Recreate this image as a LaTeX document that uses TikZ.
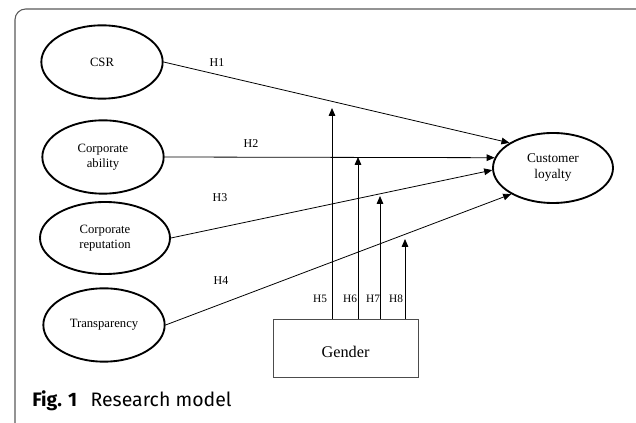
\documentclass[tikz,border=0pt]{standalone}
\usepackage{fontspec}
\setmainfont{Liberation Serif}
\newfontfamily\capfont{Fira Sans}
\usetikzlibrary{shapes.geometric, arrows.meta}

\tikzset{
  construct/.style={ellipse, draw, line width=1.4pt, inner sep=0pt, align=center,
    minimum width=91pt, minimum height=55pt, font=\fontsize{9.5}{11.25}\selectfont},
  hyp/.style={-{Triangle[length=6pt,width=5pt]}, line width=0.6pt},
  hlabel/.style={inner sep=0pt, font=\fontsize{9}{10}\selectfont},
  mlabel/.style={inner sep=0pt, font=\fontsize{8.5}{10}\selectfont},
}

\begin{document}
\begin{tikzpicture}[x=0.75pt, y=-0.75pt]
\path[use as bounding box, clip] (0,0) rectangle (636,423);
\draw[black!65, line width=0.8pt, rounded corners=8pt] (15,9) rectangle (650,440);

% constructs
\node[construct] (csr) at (102,62) {CSR};
\node[construct] (ability) at (103,157) {Corporate\\ability};
\node[construct, minimum width=97.5pt, minimum height=54pt] (reput) at (105,238) {Corporate\\reputation};
\node[construct] (transp) at (104,325) {Transparency};
\node[construct, minimum width=90pt, minimum height=52.5pt, font=\fontsize{10}{12}\selectfont] (loyal) at (553,168) {Customer\\loyalty};

% moderator
\node[draw=black!70, line width=0.6pt, minimum width=108.75pt, minimum height=43.5pt,
  text height=14pt, text depth=0pt, font=\fontsize{12.2}{14}\selectfont] (gender) at (345.5,348) {Gender};

% direct effects
\draw[hyp] (csr.east) -- (loyal.150);
\draw[hyp] (ability.east) -- (loyal.170);
\draw[hyp] (reput.east) -- (loyal.182);
\draw[hyp] (transp.east) -- (loyal.212);

\node[hlabel] (h1) at (217,62.5) {H1};
\node[hlabel] (h2) at (251,144) {H2};
\node[hlabel] (h3) at (220,198) {H3};
\node[hlabel] (h4) at (221,280.5) {H4};

% moderating effects
\coordinate (t5) at (332,108);
\coordinate (t6) at (358,157);
\coordinate (t7) at (380,196);
\coordinate (t8) at (405,239);
\foreach \t in {t5,t6,t7,t8}
  \draw[hyp] (\t |- gender.north) -- (\t);

\node[mlabel] (h5) at (320,299) {H5};
\node[mlabel] (h6) at (350,299) {H6};
\node[mlabel] (h7) at (373,299) {H7};
\node[mlabel] (h8) at (396,299) {H8};

% caption
\node[anchor=base west, inner sep=0pt, font=\capfont\fontsize{14.6}{16}\selectfont] (cap) at (32,407)
  {\textbf{Fig. 1}\hspace{10pt}Research model};
\end{tikzpicture}
\end{document}
